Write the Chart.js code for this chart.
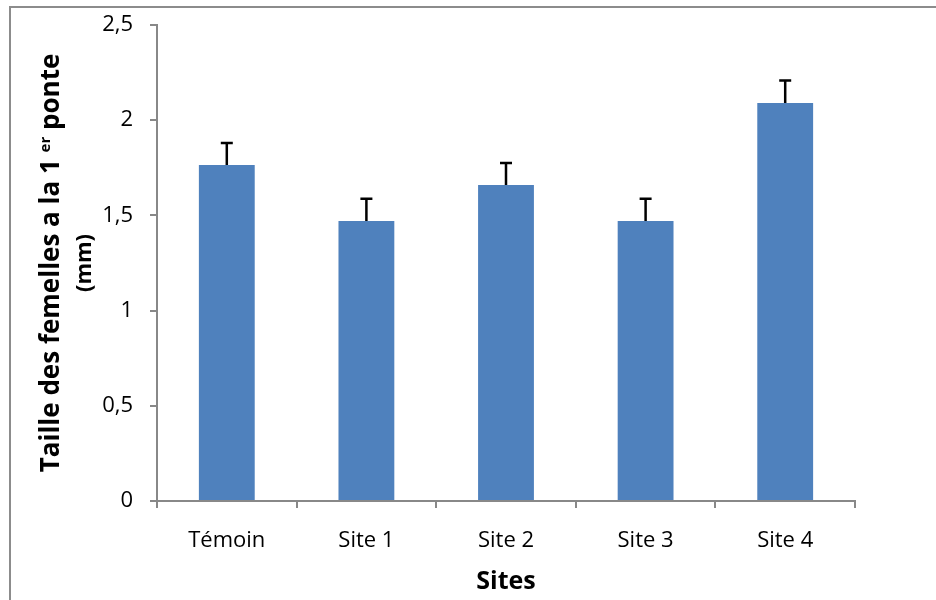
<!DOCTYPE html>
<html>
<head>
<meta charset="utf-8">
<script src="https://cdn.jsdelivr.net/npm/chart.js@4/dist/chart.umd.min.js"></script>
<style>
  html, body { margin: 0; padding: 0; background: #fff; }
  #wrap { position: relative; width: 936px; height: 600px; overflow: hidden; }
  #frame { position: absolute; left: 9px; top: 6px; width: 1000px; height: 700px;
           border-left: 2px solid #8c8c8c; border-top: 2px solid #8c8c8c; }
  canvas { position: absolute; left: 0; top: 0; }
</style>
</head>
<body>
<div id="wrap">
  <div id="frame"></div>
  <canvas id="chart" width="936" height="600"></canvas>
</div>
<script>
const sites = ['Témoin', 'Site 1', 'Site 2', 'Site 3', 'Site 4']
const tailles = [1.765, 1.47, 1.66, 1.47, 2.09]
const erreurs = [0.115, 0.118, 0.115, 0.118, 0.118]

const FONT = "'Open Sans', sans-serif"

// barres d'erreur (seulement vers le haut)
const errorBars = {
  id: 'errorBars',
  afterDatasetsDraw(chart) {
    const ctx = chart.ctx
    const meta = chart.getDatasetMeta(0)
    const y = chart.scales.y
    ctx.save()
    ctx.strokeStyle = '#000'
    ctx.lineWidth = 2.5
    meta.data.forEach((bar, i) => {
      const top = y.getPixelForValue(tailles[i] + erreurs[i])
      ctx.beginPath()
      ctx.moveTo(bar.x, bar.y)
      ctx.lineTo(bar.x, top)
      ctx.moveTo(bar.x - 6, top)
      ctx.lineTo(bar.x + 6, top)
      ctx.stroke()
    })
    ctx.restore()
  }
}

// titre de l'axe Y avec exposant "er"
const yTitle = {
  id: 'yTitle',
  afterDraw(chart) {
    const ctx = chart.ctx
    const area = chart.chartArea
    const cy = (area.top + area.bottom) / 2
    const parts = [
      { t: 'Taille des femelles a la 1 ', f: 'bold 26px ' + FONT, up: 0 },
      { t: 'er', f: 'bold 15px ' + FONT, up: 9 },
      { t: ' ponte', f: 'bold 26px ' + FONT, up: 0 }
    ]
    let total = 0
    parts.forEach(p => { ctx.font = p.f; p.w = ctx.measureText(p.t).width; total += p.w })
    ctx.save()
    ctx.fillStyle = '#000'
    ctx.textBaseline = 'alphabetic'
    ctx.translate(59, cy)
    ctx.rotate(-Math.PI / 2)
    let x = -total / 2
    parts.forEach(p => {
      ctx.font = p.f
      ctx.fillText(p.t, x, -p.up)
      x += p.w
    })
    ctx.font = 'bold 22px ' + FONT
    ctx.textAlign = 'center'
    ctx.textBaseline = 'middle'
    ctx.fillText('(mm)', 0, 26)
    ctx.restore()
  }
}

new Chart(document.getElementById('chart'), {
  type: 'bar',
  data: {
    labels: sites,
    datasets: [{
      data: tailles,
      backgroundColor: '#4F81BD',
      borderWidth: 0,
      categoryPercentage: 1,
      barPercentage: 0.4
    }]
  },
  options: {
    responsive: false,
    animation: false,
    layout: { padding: { left: 0, top: 25, right: 81, bottom: 0 } },
    plugins: { legend: { display: false }, tooltip: { enabled: false } },
    scales: {
      x: {
        grid: { offset: true, drawOnChartArea: false, tickLength: 7, color: '#888', lineWidth: 2 },
        border: { color: '#888', width: 2 },
        ticks: { color: '#000', padding: 20, font: { family: FONT, size: 22 } },
        title: { display: true, text: 'Sites', color: '#000', padding: { top: 0, bottom: 3 },
                 font: { family: FONT, size: 25, weight: 'bold' } },
        afterFit(s) { s.height = 99 }
      },
      y: {
        min: 0,
        max: 2.5,
        grid: { drawOnChartArea: false, tickLength: 7, color: '#888', lineWidth: 2 },
        border: { color: '#888', width: 2 },
        ticks: {
          stepSize: 0.5,
          color: '#000',
          padding: 17,
          font: { family: FONT, size: 22 },
          callback: v => String(v).replace('.', ',')
        },
        afterFit(s) {
          s.width = 157
          s.paddingTop = 0
          s.paddingBottom = 0
        }
      }
    }
  },
  plugins: [errorBars, yTitle]
})
</script>
</body>
</html>
